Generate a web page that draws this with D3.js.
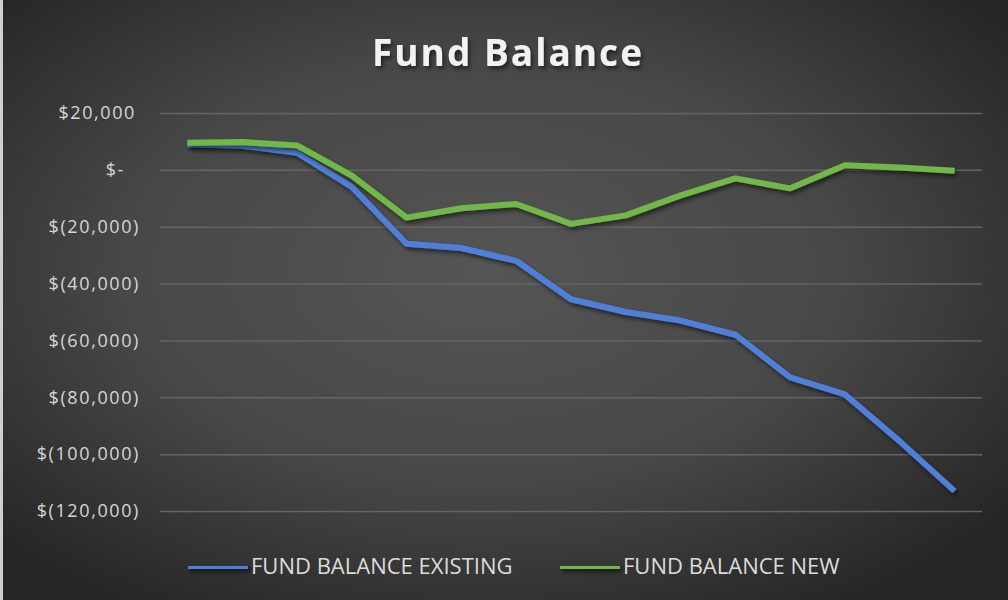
<!DOCTYPE html>
<html>
<head>
<meta charset="utf-8">
<title>Fund Balance</title>
<script src="https://cdn.jsdelivr.net/npm/d3@7"></script>
<style>
  body { margin: 0; background: #2b2b2b; }
  svg { display: block; }
</style>
</head>
<body>
<script>
'use strict';

// periods along the x axis (no labels shown in the chart)
const periods = [1, 2, 3, 4, 5, 6, 7, 8, 9, 10, 11, 12, 13, 14, 15];

// fund balance values
const existingBalance = [9000, 8500, 6000, -6000, -26000, -27500, -32000, -45500,
  -50000, -53000, -58000, -73000, -79000, -95500, -113000];
const newBalance = [9500, 9800, 8600, -2000, -16800, -13500, -12000, -19000,
  -16000, -9000, -3000, -6500, 1600, 800, -300];

// y axis ticks
const yTicks = [20000, 0, -20000, -40000, -60000, -80000, -100000, -120000];

const seriesNames = ['FUND BALANCE EXISTING', 'FUND BALANCE NEW'];
const seriesColors = ['#4f7fd6', '#72b84a'];

(function() {

  let svgContainer = "";

  window.onload = function() {
    svgContainer = d3.select('body')
      .append('svg')
      .attr('width', 1008)
      .attr('height', 600);

    drawBackground();
    let map = drawAxes();
    plotLines(map);
    makeLegend();
    makeTitle();
  }

  // dark radial background with the thin light strip on the left
  function drawBackground() {
    let defs = svgContainer.append('defs');
    let grad = defs.append('radialGradient')
      .attr('id', 'bg')
      .attr('cx', '48%').attr('cy', '45%').attr('r', '65%');
    grad.append('stop').attr('offset', '0%').attr('stop-color', '#555555');
    grad.append('stop').attr('offset', '55%').attr('stop-color', '#474747');
    grad.append('stop').attr('offset', '100%').attr('stop-color', '#272727');

    // shadow under lines and title, in user space so flat shapes keep it
    let shadow = defs.append('filter')
      .attr('id', 'shadow')
      .attr('filterUnits', 'userSpaceOnUse')
      .attr('x', 0).attr('y', 0)
      .attr('width', 1008).attr('height', 600);
    shadow.append('feDropShadow')
      .attr('dx', 2).attr('dy', 3)
      .attr('stdDeviation', 2)
      .attr('flood-color', '#000')
      .attr('flood-opacity', 0.55);

    svgContainer.append('rect')
      .attr('width', 1008)
      .attr('height', 600)
      .attr('fill', 'url(#bg)');

    svgContainer.append('rect')
      .attr('x', 0)
      .attr('width', 3)
      .attr('height', 600)
      .attr('fill', '#cfcfcf');
  }

  // accounting style dollar labels
  function formatDollar(v) {
    if (v === 0) return '$-';
    let s = d3.format(',')(Math.abs(v));
    return v < 0 ? '$(' + s + ')' : '$' + s;
  }

  // gridlines and y labels, returns the scales
  function drawAxes() {
    let xScale = d3.scalePoint()
      .domain(periods)
      .range([160, 982])
      .padding(0.5);

    let yScale = d3.scaleLinear()
      .domain([-120000, 20000])
      .range([511, 113]);

    let yAxis = d3.axisLeft(yScale)
      .tickValues(yTicks)
      .tickSize(-822)
      .tickPadding(20)
      .tickFormat(formatDollar);

    let g = svgContainer.append('g')
      .attr('transform', 'translate(160, 0)')
      .call(yAxis);

    g.select('.domain').remove();
    g.selectAll('.tick line')
      .attr('stroke', '#646464')
      .attr('stroke-width', 1.5);
    g.selectAll('.tick text')
      .attr('fill', '#d6d6d6')
      .style('font-family', '"Open Sans", sans-serif')
      .style('font-size', '18px')
      .style('letter-spacing', '1.6px')
      .attr('dx', d => d > 0 ? -4 : (d === 0 ? -15 : 0));

    return { x: xScale, y: yScale };
  }

  // draw both fund balance lines
  function plotLines(map) {
    let line = d3.line()
      .x((d, i) => map.x(periods[i]))
      .y(d => map.y(d));

    [existingBalance, newBalance].forEach((values, i) => {
      svgContainer.append('path')
        .datum(values)
        .attr('d', line)
        .attr('fill', 'none')
        .attr('stroke', seriesColors[i])
        .attr('stroke-width', 6)
        .attr('stroke-linejoin', 'round')
        .attr('filter', 'url(#shadow)');
    });
  }

  // legend along the bottom
  function makeLegend() {
    let offsets = [188, 560];
    let items = svgContainer.selectAll('.legend')
      .data(seriesNames)
      .enter()
      .append('g')
        .attr('class', 'legend')
        .attr('transform', (d, i) => 'translate(' + offsets[i] + ', 566)');

    items.append('rect')
      .attr('x', 0).attr('y', -3)
      .attr('width', 60).attr('height', 6)
      .attr('fill', (d, i) => seriesColors[i])
      .attr('filter', 'url(#shadow)');

    items.append('text')
      .attr('x', 63)
      .attr('y', 8)
      .attr('fill', '#dcdcdc')
      .style('font-family', '"Open Sans", sans-serif')
      .style('font-size', '22px')
      .text(d => d);
  }

  function makeTitle() {
    svgContainer.append('text')
      .attr('x', 508)
      .attr('y', 66)
      .attr('text-anchor', 'middle')
      .attr('fill', '#f2f2f2')
      .attr('filter', 'url(#shadow)')
      .style('font-family', '"Open Sans", sans-serif')
      .style('font-weight', 'bold')
      .style('font-size', '37px')
      .style('letter-spacing', '2px')
      .text('Fund Balance');
  }

})();
</script>
</body>
</html>
